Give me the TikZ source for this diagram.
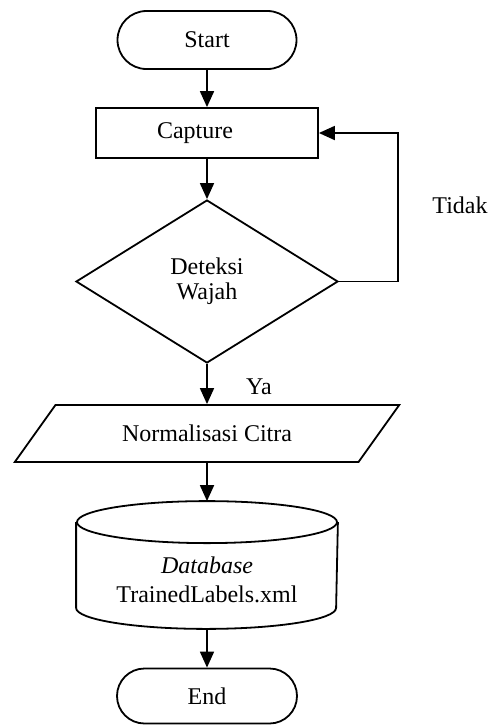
\documentclass[tikz,border=0pt]{standalone}
\usepackage{fontspec}
\setmainfont{Liberation Serif}
\usetikzlibrary{arrows.meta}
\usetikzlibrary{shapes.geometric, shapes.misc}

\begin{document}
\begin{tikzpicture}[x=0.5pt, y=-0.5pt, font=\fontsize{12}{14.5}\selectfont, line width=0.9pt]
	\useasboundingbox (0,0) rectangle (491,725);
	\begin{scope}[every node/.style={draw, inner sep=0pt, align=center}]
		\node[rounded rectangle, minimum width=89.5pt, minimum height=29pt] (start) at (207,40) {Start};
		\node[rectangle, minimum width=111pt, minimum height=25pt] (capture) at (207,133) {Capture\hspace*{12pt}};
		\node[diamond, minimum width=131pt, minimum height=81.5pt, font=\fontsize{12}{12.5}\selectfont] (deteksi) at (207,281.5) {Deteksi\\Wajah};
		\node[trapezium, trapezium left angle=36.5, trapezium right angle=143.5, trapezium stretches=true,
		      minimum width=192.5pt, minimum height=28.5pt] (citra) at (207,433.5) {Normalisasi Citra};
		\node[draw=none, minimum width=130pt, minimum height=63pt] (db) at (207,565)
			{\raisebox{-11.5pt}[0pt][0pt]{\begin{tabular}{@{}c@{}}\textit{Database}\\TrainedLabels.xml\end{tabular}}};
		\node[rounded rectangle, minimum width=90pt, minimum height=27.5pt] (end) at (207,696) {End};
	\end{scope}

	% database drum
	\draw ([yshift=-10.5pt]db.north) ellipse [x radius=65pt, y radius=10.5pt];
	\draw ([yshift=-10.5pt]db.north west) -- ([yshift=10.5pt]db.south west)
		arc [start angle=180, end angle=360, x radius=65pt, y radius=10.5pt] -- ([yshift=-10.5pt]db.north east);

	\node (tidak) at (460,205) {Tidak};
	\node (ya) at (259,387) {Ya};

	\begin{scope}[>={Triangle[length=8pt, width=7pt]}]
		\draw[->] (start) -- (capture);
		\draw[->] (capture) -- (deteksi);
		\draw[->] (deteksi) -- (citra);
		\draw[->] (citra) -- (db);
		\draw[->] (db) -- (end);
		\draw[->] (deteksi.east) -- ++(29.5pt,0) |- (capture.east);
	\end{scope}
\end{tikzpicture}
\end{document}
